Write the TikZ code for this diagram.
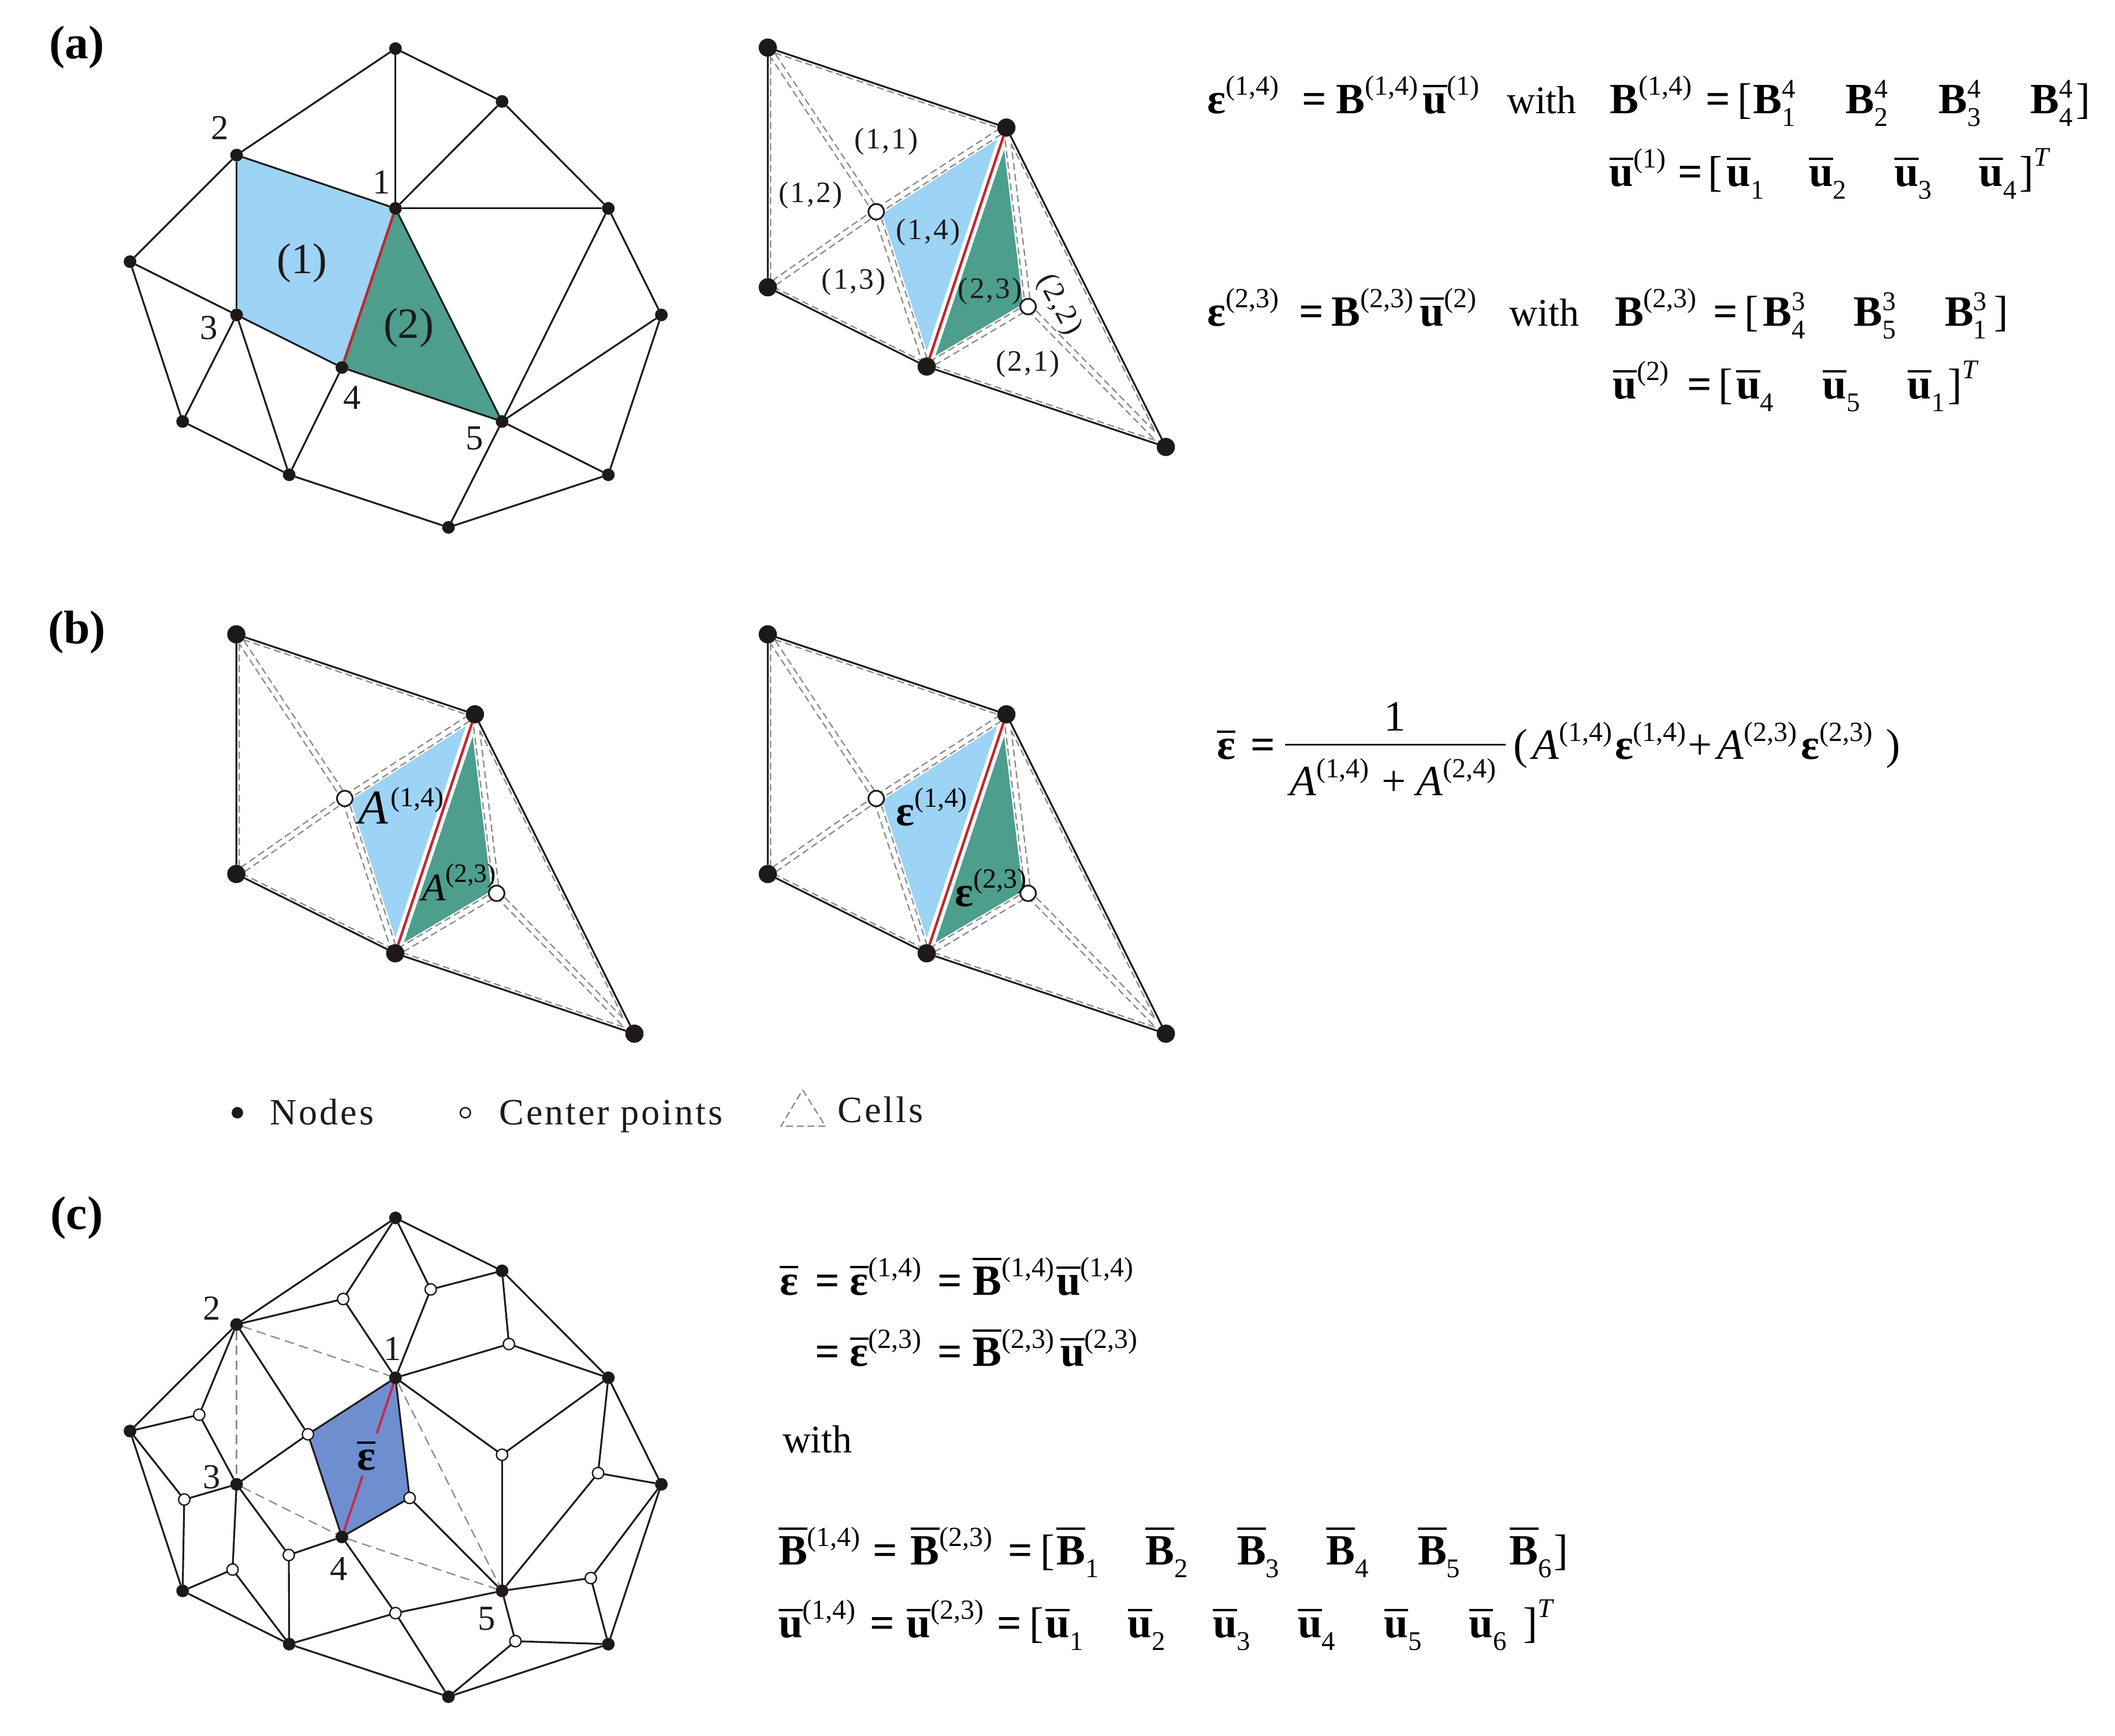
\documentclass[tikz,border=0pt]{standalone}
\usepackage{fontspec}
\setmainfont{Liberation Serif}
\newfontfamily\lsfont[LetterSpace=6]{Liberation Serif}
\usetikzlibrary{backgrounds,calc}
\definecolor{cellblue}{RGB}{157,211,245}
\definecolor{cellgreen}{RGB}{77,158,140}
\definecolor{avgblue}{RGB}{110,143,207}
\definecolor{edgered}{RGB}{192,39,45}
\definecolor{avgred}{RGB}{200,40,80}
\definecolor{dashgray}{RGB}{140,140,140}
\definecolor{inkblack}{RGB}{30,25,25}
\newdimen\cxa \newdimen\cya \newdimen\cxb \newdimen\cyb \newdimen\cxc \newdimen\cyc
\newcommand\insetcell[5]{%
  \pgfextractx\cxa{\pgfpointanchor{#1}{center}}\pgfextracty\cya{\pgfpointanchor{#1}{center}}%
  \pgfextractx\cxb{\pgfpointanchor{#2}{center}}\pgfextracty\cyb{\pgfpointanchor{#2}{center}}%
  \pgfextractx\cxc{\pgfpointanchor{#3}{center}}\pgfextracty\cyc{\pgfpointanchor{#3}{center}}%
  \pgfmathsetmacro\sideA{veclen(\cxb-\cxc,\cyb-\cyc)}%
  \pgfmathsetmacro\sideB{veclen(\cxa-\cxc,\cya-\cyc)}%
  \pgfmathsetmacro\sideC{veclen(\cxa-\cxb,\cya-\cyb)}%
  \pgfmathsetmacro\perim{\sideA+\sideB+\sideC}%
  \pgfmathsetmacro\inrad{abs((\cxb-\cxa)/100*(\cyc-\cya)-(\cxc-\cxa)/100*(\cyb-\cya))/\perim*100}%
  \pgfmathsetmacro\tfrac{#4/\inrad}%
  \pgfmathsetmacro\ix{\sideA/\perim*\cxa+\sideB/\perim*\cxb+\sideC/\perim*\cxc}%
  \pgfmathsetmacro\iy{\sideA/\perim*\cya+\sideB/\perim*\cyb+\sideC/\perim*\cyc}%
  \pgfmathsetmacro\pxa{\cxa+\tfrac*(\ix-\cxa)}\pgfmathsetmacro\pya{\cya+\tfrac*(\iy-\cya)}%
  \pgfmathsetmacro\pxb{\cxb+\tfrac*(\ix-\cxb)}\pgfmathsetmacro\pyb{\cyb+\tfrac*(\iy-\cyb)}%
  \pgfmathsetmacro\pxc{\cxc+\tfrac*(\ix-\cxc)}\pgfmathsetmacro\pyc{\cyc+\tfrac*(\iy-\cyc)}%
  \coordinate (#5a) at (\pxa pt,\pya pt);%
  \coordinate (#5b) at (\pxb pt,\pyb pt);%
  \coordinate (#5c) at (\pxc pt,\pyc pt);%
}
\newcommand\dashcell[4]{\insetcell{#1}{#2}{#3}{2.1}{#4}\draw[celldash] (#4a)--(#4b)--(#4c)--cycle;}
\newcommand\panelcells[3]{%
  \node[bigdot] (#1A) at (569.2+#2,35.3+#3) {};
  \node[bigdot] (#1D) at (746.1+#2,94.6+#3) {};
  \node[bigdot] (#1C) at (569.2+#2,213+#3) {};
  \node[bigdot] (#1E) at (687+#2,271.8+#3) {};
  \node[bigdot] (#1F) at (864.3+#2,331.4+#3) {};
  \node[bigopen] (#1O) at (649.6+#2,157+#3) {};
  \node[bigopen] (#1Q) at (762.2+#2,227.3+#3) {};
  \begin{pgfonlayer}{background}
    \insetcell{#1D}{#1E}{#1O}{3.6}{#1fa}
    \fill[cellblue] (#1faa)--(#1fab)--(#1fac)--cycle;
    \insetcell{#1D}{#1E}{#1Q}{3.6}{#1fb}
    \fill[cellgreen] (#1fba)--(#1fbb)--(#1fbc)--cycle;
    \dashcell{#1A}{#1D}{#1O}{#1ca}
    \dashcell{#1A}{#1C}{#1O}{#1cb}
    \dashcell{#1C}{#1E}{#1O}{#1cc}
    \dashcell{#1E}{#1F}{#1Q}{#1cd}
    \dashcell{#1D}{#1F}{#1Q}{#1ce}
    \insetcell{#1D}{#1E}{#1O}{2.1}{#1cf}
    \draw[celldash] (#1cfa)--(#1cfc)--(#1cfb);
    \insetcell{#1D}{#1E}{#1Q}{2.1}{#1cg}
    \draw[celldash] (#1cga)--(#1cgc)--(#1cgb);
    \draw[rededge] (#1D)--(#1E);
    \draw[meshline] (#1A)--(#1D) (#1A)--(#1C) (#1C)--(#1E) (#1E)--(#1F) (#1D)--(#1F);
  \end{pgfonlayer}%
}
\newcommand\meshnodes[2]{%
  \foreach \nn/\xx/\yy in {T/293.2/36,TR/372.2/75.2,2/175.4/115,1/293.2/154.5,R1/451/154.5,L/96.4/194,3/175.4/233.5,RR/490.3/233.5,4/253.5/272.5,5/372.2/312.5,BL/135.4/312.5,BM/214.4/352,BR/451/352,B/332.5/391}
    {\node[meshdot] (#1\nn) at (\xx,\yy+#2) {};}%
}
% text helpers
\newcommand\sU[1]{\raisebox{13.5pt}{\fontsize{20.5}{20.5}\selectfont #1}}
\newcommand\sD[1]{\raisebox{-9.5pt}{\fontsize{20}{20}\selectfont #1}}
\newcommand\sUD[2]{\rlap{\raisebox{11.5pt}{\fontsize{20}{20}\selectfont #1}}\sD{#2}}
\newcommand\barred[1]{\vbox{\offinterlineskip\hrule height 1.8pt\kern 4.6pt\hbox{#1}}}
\newcommand\bB{\textbf{B}}
\newcommand\bE{\textbf{ε}}
\newcommand\bU{\barred{\textbf{u}}}
\newcommand\bbE{\barred{\textbf{ε}}}
\newcommand\bbB{\barred{\textbf{B}}}
\newcommand\eqp[4]{\node[eqtext] (#1) at (#2,#3) {#4};}
\tikzset{
  x=1pt,y=-1pt,
  meshline/.style={draw=inkblack,line width=1.35pt,line join=round},
  rededge/.style={draw=edgered,line width=1.9pt},
  celldash/.style={draw=dashgray,line width=1pt,dash pattern=on 5.2pt off 2.8pt},
  griddash/.style={draw=dashgray,line width=1pt,dash pattern=on 7pt off 4pt},
  bigdot/.style={circle,fill=inkblack,minimum size=13.5pt,inner sep=0pt,outer sep=0pt},
  bigopen/.style={circle,draw=inkblack,fill=white,line width=1.3pt,minimum size=11.5pt,inner sep=0pt,outer sep=0pt},
  meshdot/.style={circle,fill=inkblack,minimum size=9.4pt,inner sep=0pt,outer sep=0pt},
  meshopen/.style={circle,draw=inkblack,fill=white,line width=1pt,minimum size=8.4pt,inner sep=0pt,outer sep=0pt},
  legdot/.style={circle,fill=inkblack,minimum size=8.5pt,inner sep=0pt},
  legopen/.style={circle,draw=inkblack,fill=white,line width=1.1pt,minimum size=7.5pt,inner sep=0pt},
  tag/.style={inner sep=0pt,font=\fontsize{35}{38}\selectfont\bfseries},
  num/.style={inner sep=0pt,text=inkblack,font=\fontsize{26}{28}\selectfont},
  bignum/.style={inner sep=0pt,text=inkblack,font=\fontsize{32}{34}\selectfont},
  cellnum/.style={inner sep=0pt,text=inkblack,font=\fontsize{22}{24}\selectfont\lsfont},
  legend/.style={anchor=base west,inner sep=0pt,text=inkblack,font=\fontsize{27.5}{30}\selectfont\lsfont},
  eqtext/.style={anchor=base west,inner sep=0pt,font=\fontsize{32}{36}\selectfont},
}
\begin{document}
\begin{tikzpicture}
\useasboundingbox (0,0) rectangle (1568,1286.7);
\begin{pgfonlayer}{background}
  \fill[white] (0,0) rectangle (1568,1286.7);
\end{pgfonlayer}
\node[tag] (taga) at (57,35) {(a)};
\node[tag] (tagb) at (57,469) {(b)};
\node[tag] (tagc) at (57,903) {(c)};

% ---------- mesh (a)
\meshnodes{a}{0}
\begin{pgfonlayer}{background}
  \fill[cellblue] (a2.center)--(a1.center)--(a4.center)--(a3.center)--cycle;
  \fill[cellgreen] (a1.center)--(a5.center)--(a4.center)--cycle;
  \foreach \pp/\qq in {T/2,T/TR,T/1,TR/1,TR/R1,1/R1,2/1,2/3,2/L,L/3,L/BL,3/BL,3/BM,3/4,4/BM,4/5,BM/BL,BM/B,5/B,1/5,R1/5,R1/RR,RR/5,RR/BR,5/BR,BR/B}
    {\draw[meshline] (a\pp)--(a\qq);}
  \draw[rededge] (a1)--(a4);
\end{pgfonlayer}
\node[num] (la2) at (163,95) {2};
\node[num] (la1) at (283,135) {1};
\node[num] (la3) at (155,243) {3};
\node[num] (la4) at (261,295) {4};
\node[num] (la5) at (352,325) {5};
\node[bignum] (lac1) at (224,195) {(1)};
\node[bignum] (lac2) at (303,243) {(2)};

% ---------- expanded cells (a), (b)
\panelcells{p}{0}{0}
\panelcells{q}{-394}{435}
\panelcells{r}{0}{435}
\node[cellnum] (c11) at (657,105) {(1,1)};
\node[cellnum] (c12) at (601,145) {(1,2)};
\node[cellnum] (c13) at (633,209) {(1,3)};
\node[cellnum] (c14) at (688,172) {(1,4)};
\node[cellnum] (c23) at (734,216) {(2,3)};
\node[cellnum,rotate=-62] (c22) at (785,226) {(2,2)};
\node[cellnum] (c21) at (762,270) {(2,1)};

\node[eqtext,font=\fontsize{36}{38}\selectfont] (qa14) at (265.6,611) {\textit{A}};
\node[eqtext,font=\fontsize{20.5}{24}\selectfont] (qa14s) at (289.5,598) {(1,4)};
\node[eqtext,font=\fontsize{29}{30}\selectfont] (qa23) at (312.6,667.6) {\textit{A}};
\node[eqtext,font=\fontsize{19.5}{24}\selectfont] (qa23s) at (330,654) {(2,3)};
\eqp{re14}{664}{612}{\bE\sU{(1,4)}}
\eqp{re23}{708}{672}{\bE\sU{(2,3)}}

% ---------- legend
\node[legdot] (lgn) at (176,825) {};
\node[legend] (lgnt) at (200,834) {Nodes};
\node[legopen] (lgc) at (345,825) {};
\node[legend] (lgct) at (370,834) {Center points};
\coordinate (lgta) at (595,808);
\coordinate (lgtb) at (612,835);
\coordinate (lgtc) at (579,835);
\draw[celldash] (lgta)--(lgtb)--(lgtc)--cycle;
\node[legend] (lgcl) at (621,832) {Cells};

% ---------- mesh (c)
\meshnodes{m}{867}
\foreach \nn/\xx/\yy in {1/254.4/963.1,2/319.3/956,3/377.3/996.5,4/147.7/1048.9,5/228.3/1063.4,6/372.2/1078.6,7/136.6/1111.8,8/303.7/1110.6,9/443.4/1092.2,10/214.1/1152.9,11/172.4/1163.7,12/438/1170,13/293.2/1196,14/382.1/1216.8}
  {\node[meshopen] (cc\nn) at (\xx,\yy) {};}
\begin{pgfonlayer}{background}
  \fill[avgblue] (m1.center)--(cc5.center)--(m4.center)--(cc8.center)--cycle;
  \foreach \pp/\qq in {2/1,2/3,3/4,4/5,1/5}
    {\draw[griddash] (m\pp)--(m\qq);}
  \foreach \pp/\qq in {T/TR,TR/R1,R1/RR,RR/BR,BR/B,B/BM,BM/BL,BL/L,L/2,2/T}
    {\draw[meshline] (m\pp)--(m\qq);}
  \foreach \cc/\ends in {1/{T,2,1},2/{T,TR,1},3/{TR,R1,1},4/{2,L,3},5/{2,1,3,4},6/{1,R1,5},7/{L,3,BL},8/{1,4,5},9/{R1,RR,5},10/{3,4,BM},11/{3,BL,BM},12/{5,RR,BR},13/{4,5,BM,B},14/{5,BR,B}}
    {\foreach \ee in \ends {\draw[meshline] (cc\cc)--(m\ee);}}
  \draw[draw=avgred,line width=1.7pt] (m1)--($(m1)!0.35!(m4)$) ($(m1)!0.615!(m4)$)--(m4);
\end{pgfonlayer}
\node[num] (lm2) at (157,970) {2};
\node[num] (lm1) at (291,1000) {1};
\node[num] (lm3) at (157,1095) {3};
\node[num] (lm4) at (251,1163) {4};
\node[num] (lm5) at (361,1200) {5};
\eqp{lmavg}{264.5}{1090}{\bbE}

% ---------- equations (a)
\eqp{a1a}{895}{84}{\bE\sU{(1,4)}}
\eqp{a1b}{965}{84}{\textbf{=}}
\eqp{a1c}{990.5}{84}{\bB\sU{(1,4)}}
\eqp{a1d}{1054.8}{84}{\bU\sU{(1)}}
\eqp{a1e}{1117}{84}{\fontsize{29}{30}\selectfont with}
\eqp{a1f}{1193.3}{84}{\bB\sU{(1,4)}}
\eqp{a1g}{1264.6}{84}{\textbf{=}}
\eqp{a1h}{1288}{84}{[}
\eqp{a1i}{1299.5}{84}{\bB\sUD{4}{1}}
\eqp{a1j}{1368}{84}{\bB\sUD{4}{2}}
\eqp{a1k}{1437}{84}{\bB\sUD{4}{3}}
\eqp{a1l}{1505}{84}{\bB\sUD{4}{4}}
\eqp{a1m}{1539}{84}{]}

\eqp{a2a}{1193}{138}{\bU\sU{(1)}}
\eqp{a2b}{1244}{138}{\textbf{=}}
\eqp{a2c}{1266}{138}{[}
\eqp{a2d}{1280}{138}{\bU\sD{1}}
\eqp{a2e}{1341}{138}{\bU\sD{2}}
\eqp{a2f}{1404.4}{138}{\bU\sD{3}}
\eqp{a2g}{1467}{138}{\bU\sD{4}}
\eqp{a2h}{1497}{138}{]\raisebox{15pt}{\fontsize{20}{20}\selectfont\textit{T}}}

\eqp{a3a}{895}{241.5}{\bE\sU{(2,3)}}
\eqp{a3b}{963}{241.5}{\textbf{=}}
\eqp{a3c}{987}{241.5}{\bB\sU{(2,3)}}
\eqp{a3d}{1052.6}{241.5}{\bU\sU{(2)}}
\eqp{a3e}{1119}{241.5}{\fontsize{29}{30}\selectfont with}
\eqp{a3f}{1197}{241.5}{\bB\sU{(2,3)}}
\eqp{a3g}{1270}{241.5}{\textbf{=}}
\eqp{a3h}{1293}{241.5}{[}
\eqp{a3i}{1307}{241.5}{\bB\sUD{3}{4}}
\eqp{a3j}{1374}{241.5}{\bB\sUD{3}{5}}
\eqp{a3k}{1441.5}{241.5}{\bB\sUD{3}{1}}
\eqp{a3l}{1478}{241.5}{]}

\eqp{a4a}{1195.5}{295.5}{\bU\sU{(2)}}
\eqp{a4b}{1250.6}{295.5}{\textbf{=}}
\eqp{a4c}{1274}{295.5}{[}
\eqp{a4d}{1287}{295.5}{\bU\sD{4}}
\eqp{a4e}{1351}{295.5}{\bU\sD{5}}
\eqp{a4f}{1414}{295.5}{\bU\sD{1}}
\eqp{a4g}{1444}{295.5}{]\raisebox{15pt}{\fontsize{20}{20}\selectfont\textit{T}}}

% ---------- equation (b)
\eqp{b1a}{902}{563}{\bbE}
\eqp{b1b}{927}{563}{\textbf{=}}
\node[eqtext,anchor=base] (b1c) at (1034,542) {1};
\eqp{b1d}{956}{590}{\textit{A}\sU{(1,4)}}
\eqp{b1e}{1024}{590}{+}
\eqp{b1f}{1050}{590}{\textit{A}\sU{(2,4)}}
\node[inner sep=0pt] (fbl) at (952,552) {};
\node[inner sep=0pt] (fbr) at (1117,552) {};
\draw[inkblack,line width=1.3pt] (fbl)--(fbr);
\eqp{b2a}{1122}{563}{(}
\eqp{b2b}{1136}{563}{\textit{A}\sU{(1,4)}}
\eqp{b2c}{1197}{563}{\bE\sU{(1,4)}}
\eqp{b2d}{1251}{563}{+}
\eqp{b2e}{1273}{563}{\textit{A}\sU{(2,3)}}
\eqp{b2f}{1335}{563}{\bE\sU{(2,3)}}
\eqp{b2g}{1398}{563}{)}

% ---------- equations (c)
\eqp{c1a}{578}{960}{\bbE}
\eqp{c1b}{604}{960}{\textbf{=}}
\eqp{c1c}{630}{960}{\bbE\sU{(1,4)}}
\eqp{c1d}{695}{960}{\textbf{=}}
\eqp{c1e}{721}{960}{\bbB\sU{(1,4)}}
\eqp{c1f}{783}{960}{\bU\sU{(1,4)}}
\eqp{c2b}{604}{1013}{\textbf{=}}
\eqp{c2c}{630}{1013}{\bbE\sU{(2,3)}}
\eqp{c2d}{695}{1013}{\textbf{=}}
\eqp{c2e}{721}{1013}{\bbB\sU{(2,3)}}
\eqp{c2f}{786}{1013}{\bU\sU{(2,3)}}
\eqp{c3}{580}{1077}{\fontsize{29}{30}\selectfont with}
\eqp{c4a}{577}{1160}{\bbB\sU{(1,4)}}
\eqp{c4b}{647}{1160}{\textbf{=}}
\eqp{c4c}{675}{1160}{\bbB\sU{(2,3)}}
\eqp{c4d}{747}{1160}{\textbf{=}}
\eqp{c4e}{771}{1160}{[}
\eqp{c4f}{783}{1160}{\bbB\sD{1}}
\eqp{c4g}{849}{1160}{\bbB\sD{2}}
\eqp{c4h}{917}{1160}{\bbB\sD{3}}
\eqp{c4i}{983}{1160}{\bbB\sD{4}}
\eqp{c4j}{1051}{1160}{\bbB\sD{5}}
\eqp{c4k}{1119}{1160}{\bbB\sD{6}}
\eqp{c4l}{1152}{1160}{]}
\eqp{c5a}{577}{1214}{\bU\sU{(1,4)}}
\eqp{c5b}{645}{1214}{\textbf{=}}
\eqp{c5c}{672}{1214}{\bU\sU{(2,3)}}
\eqp{c5d}{739}{1214}{\textbf{=}}
\eqp{c5e}{763}{1214}{[}
\eqp{c5f}{775}{1214}{\bU\sD{1}}
\eqp{c5g}{836}{1214}{\bU\sD{2}}
\eqp{c5h}{899}{1214}{\bU\sD{3}}
\eqp{c5i}{962}{1214}{\bU\sD{4}}
\eqp{c5j}{1026}{1214}{\bU\sD{5}}
\eqp{c5k}{1089}{1214}{\bU\sD{6}}
\eqp{c5l}{1129}{1214}{]\raisebox{15pt}{\fontsize{20}{20}\selectfont\textit{T}}}
\end{tikzpicture}
\end{document}
